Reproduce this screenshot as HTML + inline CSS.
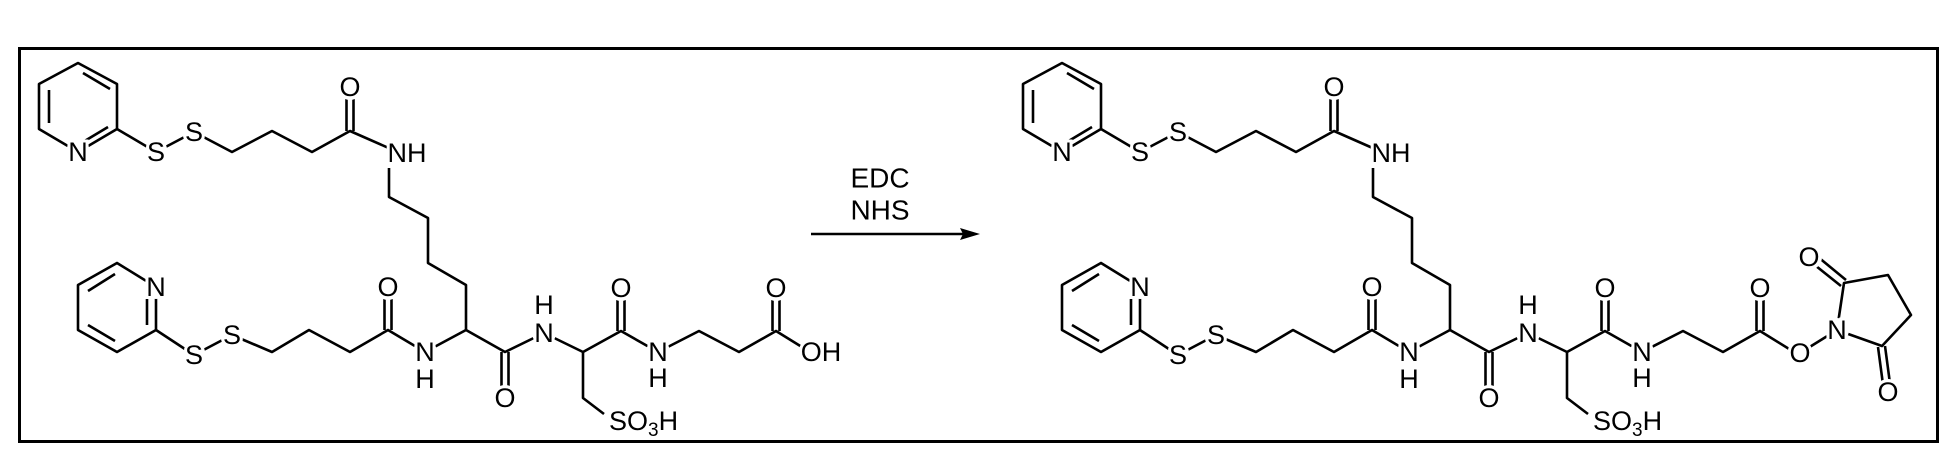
<!DOCTYPE html>
<html><head><meta charset="utf-8"><style>
html,body{margin:0;padding:0;background:#fff;}
svg{display:block}
text{font-family:"Liberation Sans",Arial,sans-serif;font-size:27px;fill:#000;stroke:#fff;stroke-width:6px;paint-order:stroke;}
.c{text-anchor:middle;dominant-baseline:central}
circle{fill:#fff;stroke:none}
</style></head><body>
<svg width="1949" height="463" viewBox="0 0 1949 463" xmlns="http://www.w3.org/2000/svg">
<rect x="19.5" y="48.5" width="1918" height="393" fill="none" stroke="#000" stroke-width="3"/>
<defs>
<g id="mol">
<g fill="none" stroke="#000" stroke-width="2.6" stroke-linejoin="round">
 <polyline points="117,129 78,152 39,129 39,84 78,63 117,84 117,129"/>
 <line x1="83" y1="73" x2="110" y2="89"/>
 <line x1="49" y1="90" x2="49" y2="123"/>
 <line x1="83" y1="142" x2="108" y2="127"/>
 <polyline points="117,129 156,152 194,132 232,152 272,131 312,152 350,131 400,153"/>
 <line x1="346.5" y1="131" x2="346.5" y2="87"/><line x1="353.5" y1="131" x2="353.5" y2="87"/>
 <polyline points="389,168 389,197 428,218 428,263 466,285 466,330"/>
 <polyline points="156,330 156,287 117,263 78,285 78,330 117,352 156,330"/>
 <line x1="147" y1="292" x2="147" y2="325"/>
 <line x1="88" y1="291" x2="115" y2="274"/>
 <line x1="88" y1="325" x2="115" y2="341"/>
 <polyline points="156,330 194,355 232,335 272,352 309,330 350,352 388,330 425,352 466,330 505,352 544,333 583,352 621,331 658,352 699,331 739,352 776,331 810,352"/>
 <line x1="384.5" y1="330" x2="384.5" y2="287"/><line x1="391.5" y1="330" x2="391.5" y2="287"/>
 <line x1="501.5" y1="352" x2="501.5" y2="398"/><line x1="508.5" y1="352" x2="508.5" y2="398"/>
 <line x1="617.5" y1="331" x2="617.5" y2="288"/><line x1="624.5" y1="331" x2="624.5" y2="288"/>
 <line x1="772.5" y1="331" x2="772.5" y2="288"/><line x1="779.5" y1="331" x2="779.5" y2="288"/>
 <polyline points="583,352 583,398 604,414"/>
</g>
<circle cx="78" cy="152" r="12"/><circle cx="156" cy="152" r="11"/><circle cx="194" cy="132" r="11"/>
<circle cx="350" cy="87" r="13"/><circle cx="400" cy="153" r="12"/><circle cx="156" cy="287" r="12"/>
<circle cx="194" cy="355" r="11"/><circle cx="232" cy="335" r="11"/><circle cx="388" cy="287" r="13"/>
<circle cx="425" cy="352" r="12"/><circle cx="425" cy="379" r="11"/><circle cx="505" cy="398" r="13"/>
<circle cx="544" cy="333" r="12"/><circle cx="544" cy="305" r="11"/><circle cx="621" cy="288" r="13"/>
<circle cx="658" cy="352" r="12"/><circle cx="658" cy="378" r="11"/><circle cx="776" cy="288" r="13"/>
</g>
</defs>
<use href="#mol"/>
<g>
 <text class="c" x="78" y="152">N</text>
 <text class="c" x="156" y="152">S</text>
 <text class="c" x="194" y="132">S</text>
 <text class="c" x="350" y="87">O</text>
 <text class="c" x="407" y="153">NH</text>
 <text class="c" x="156" y="287">N</text>
 <text class="c" x="194" y="355">S</text>
 <text class="c" x="232" y="335">S</text>
 <text class="c" x="388" y="287">O</text>
 <text class="c" x="425" y="352">N</text><text class="c" x="425" y="379">H</text>
 <text class="c" x="505" y="398">O</text>
 <text class="c" x="544" y="333">N</text><text class="c" x="544" y="305">H</text>
 <text class="c" x="621" y="288">O</text>
 <text class="c" x="658" y="352">N</text><text class="c" x="658" y="378">H</text>
 <text class="c" x="776" y="288">O</text>
 <text x="609" y="430">SO<tspan font-size="19" dy="6">3</tspan><tspan dy="-6">H</tspan></text>
</g>
<circle cx="821" cy="352" r="14"/>
<text class="c" x="821" y="352">OH</text>
<line x1="811" y1="234" x2="965" y2="234" stroke="#000" stroke-width="2.6"/>
<polygon points="980,234 960,228 963,234 960,240" fill="#000"/>
<text class="c" x="880" y="178" style="font-size:28px">EDC</text>
<text class="c" x="880" y="210" style="font-size:28px">NHS</text>
<use href="#mol" transform="translate(984,0)"/>
<g transform="translate(984,0)">
 <text class="c" x="78" y="152">N</text>
 <text class="c" x="156" y="152">S</text>
 <text class="c" x="194" y="132">S</text>
 <text class="c" x="350" y="87">O</text>
 <text class="c" x="407" y="153">NH</text>
 <text class="c" x="156" y="287">N</text>
 <text class="c" x="194" y="355">S</text>
 <text class="c" x="232" y="335">S</text>
 <text class="c" x="388" y="287">O</text>
 <text class="c" x="425" y="352">N</text><text class="c" x="425" y="379">H</text>
 <text class="c" x="505" y="398">O</text>
 <text class="c" x="544" y="333">N</text><text class="c" x="544" y="305">H</text>
 <text class="c" x="621" y="288">O</text>
 <text class="c" x="658" y="352">N</text><text class="c" x="658" y="378">H</text>
 <text class="c" x="776" y="288">O</text>
 <text x="609" y="430">SO<tspan font-size="19" dy="6">3</tspan><tspan dy="-6">H</tspan></text>
 <g fill="none" stroke="#000" stroke-width="2.6" stroke-linejoin="round">
  <polyline points="810,352 816,353 853,330"/>
  <polyline points="853,330 860,283 904,275 927,315 898,346 853,330"/>
  <line x1="857" y1="286" x2="822" y2="258"/><line x1="862" y1="280" x2="828" y2="252"/>
  <line x1="894" y1="347" x2="900" y2="392"/><line x1="901" y1="346" x2="907" y2="391"/>
 </g>
 <circle cx="816" cy="353" r="12"/><circle cx="853" cy="330" r="12"/>
 <circle cx="825" cy="257" r="13"/><circle cx="904" cy="392" r="13"/>
 <text class="c" x="816" y="353">O</text>
 <text class="c" x="853" y="330">N</text>
 <text class="c" x="825" y="257">O</text>
 <text class="c" x="904" y="392">O</text>
</g>
</svg>
</body></html>
